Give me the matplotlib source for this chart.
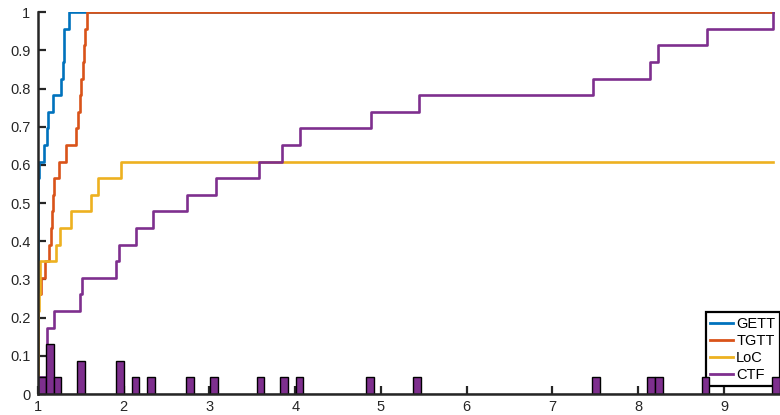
import numpy as np
import matplotlib.pyplot as plt

plt.rcParams['font.family'] = ['Liberation Sans', 'DejaVu Sans']

# performance ratios per solver (np.inf = not solved), 23 problems
n_prob = 23
gett = [1.0] * 13 + [1.008, 1.07, 1.10, 1.12, 1.178, 1.268, 1.288, 1.300, 1.307, 1.362]
tgtt = [1.0] * 6 + [1.04, 1.082, 1.13, 1.148, 1.16, 1.172, 1.187, 1.245, 1.33,
                    1.443, 1.47, 1.49, 1.505, 1.52, 1.535, 1.55, 1.57]
loc = [1.0] * 5 + [1.01, 1.02, 1.025, 1.206, 1.257, 1.381, 1.615, 1.70, 1.964] + [np.inf] * 9
ctf = [1.0, 1.10, 1.10, 1.10, 1.19, 1.49, 1.51, 1.915, 1.94, 2.143, 2.345, 2.741,
       3.076, 3.581, 3.842, 4.06, 4.88, 5.447, 7.476, 8.137, 8.234, 8.798, 9.57]

names = ['GETT', 'TGTT', 'LoC', 'CTF']
colors = ['#0072BD', '#D95319', '#EDB120', '#7E2F8E']

x_max = 9.65
n_bins = 95


def profile(r, x_end):
    r = np.sort(np.asarray(r, dtype=float))
    r = r[np.isfinite(r)]
    y = np.arange(1, len(r) + 1) / n_prob
    return np.r_[r, x_end], np.r_[y, y[-1]]


fig = plt.figure(figsize=(7.8, 4.15), dpi=100)
ax = fig.add_axes([38 / 780, 21 / 415, 741.7 / 780, 381.7 / 415])

x_end = max(ctf)
for data, name, c in zip([gett, tgtt, loc, ctf], names, colors):
    xs, ys = profile(data, x_end)
    ax.step(xs, ys, where='post', color=c, lw=1.9, label=name, zorder=2)

# distribution of CTF ratios
ax.hist(ctf, bins=np.linspace(1, x_max, n_bins + 1),
        weights=np.full(len(ctf), 1 / n_prob),
        color='#7E2F8E', edgecolor='black', linewidth=1.0, zorder=6)

ax.set_xlim(1, x_max)
ax.set_ylim(0, 1)
ax.set_xticks(range(1, 10))
yt = np.round(np.arange(0, 1.01, 0.1), 1)
ax.set_yticks(yt)
ax.set_yticklabels([f'{v:g}' for v in yt])

for s in ['top', 'right']:
    ax.spines[s].set_visible(False)
for s in ['left', 'bottom']:
    ax.spines[s].set_linewidth(1.8)
    ax.spines[s].set_color('#262626')
    ax.spines[s].set_zorder(7)
ax.tick_params(direction='in', length=5.5, width=1.6, colors='#262626',
               labelsize=10.5, labelcolor='#262626')
ax.tick_params(axis='x', pad=4.5)
ax.tick_params(axis='y', pad=5.5)

leg = ax.legend(loc='lower right', bbox_to_anchor=(1.0, 0.021), borderaxespad=0,
                fancybox=False, fontsize=10.5, handlelength=1.6, handletextpad=0.2,
                labelspacing=0.2, borderpad=0.3, framealpha=1)
leg.get_frame().set_edgecolor('black')
leg.get_frame().set_linewidth(1.6)
for line in leg.get_lines():
    line.set_linewidth(2.0)

fig.savefig('out.png', dpi=100)
